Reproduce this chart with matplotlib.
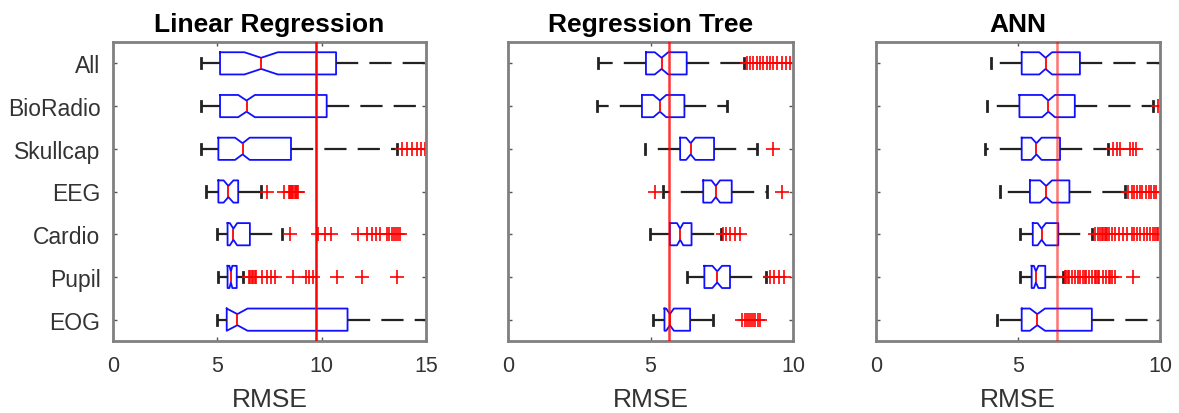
import matplotlib.pyplot as plt

plt.rcParams['font.family'] = ['Liberation Sans', 'DejaVu Sans']

groups = ['All', 'BioRadio', 'Skullcap', 'EEG', 'Cardio', 'Pupil', 'EOG']

# Linear regression RMSE summaries
lr_lo = [4.24, 4.24, 4.24, 4.44, 5.00, 5.05, 4.97]
lr_q1 = [5.13, 5.13, 5.05, 5.05, 5.49, 5.49, 5.45]
lr_med = [7.10, 6.40, 6.21, 5.53, 5.77, 5.65, 5.96]
lr_q3 = [10.69, 10.24, 8.53, 6.00, 6.56, 5.93, 11.24]
lr_hi = [16.0, 16.0, 13.60, 7.09, 8.08, 6.21, 16.0]
lr_cilo = [6.30, 6.00, 5.85, 5.30, 5.60, 5.58, 5.45]
lr_cihi = [7.90, 6.80, 6.55, 5.77, 5.95, 5.72, 6.45]
lr_out = [
    [],
    [],
    [13.85, 14.1, 14.35, 14.55, 14.75, 14.95],
    [7.36, 8.2, 8.45, 8.5, 8.55, 8.6, 8.65, 8.7, 8.75, 8.8, 8.87],
    [8.48, 9.84, 10.16, 10.47, 11.75, 12.15, 12.39, 12.6, 12.8,
     13.15, 13.25, 13.35, 13.45, 13.55, 13.65, 13.75],
    [6.5, 6.58, 6.65, 6.72, 6.8, 6.87, 7.12, 7.36, 7.56, 7.76,
     8.64, 9.25, 9.41, 9.6, 10.75, 11.91, 13.59],
    [],
]
lr_ref = 9.75

# Regression tree RMSE summaries
rt_lo = [3.17, 3.11, 4.81, 5.45, 4.98, 6.27, 5.10]
rt_q1 = [4.84, 4.70, 6.04, 6.85, 5.68, 6.89, 5.49]
rt_med = [5.39, 5.33, 6.41, 7.29, 6.04, 7.34, 5.68]
rt_q3 = [6.27, 6.19, 7.23, 7.85, 6.44, 7.79, 6.39]
rt_hi = [8.28, 7.70, 8.75, 9.08, 7.47, 9.05, 7.20]
rt_cilo = [5.15, 5.10, 6.25, 7.14, 5.93, 7.17, 5.55]
rt_cihi = [5.62, 5.55, 6.57, 7.44, 6.15, 7.51, 5.82]
rt_out = [
    [8.37, 8.5, 8.61, 8.72, 8.84, 8.96, 9.08, 9.2, 9.31, 9.43, 9.6, 9.75, 9.89],
    [],
    [9.29],
    [5.16, 9.63],
    [7.55, 7.65, 7.8, 7.95, 8.15],
    [9.2, 9.35, 9.5, 9.7],
    [8.2, 8.3, 8.38, 8.45, 8.52, 8.6, 8.68, 8.76, 8.84],
]
rt_ref = 5.65

# ANN RMSE summaries
ann_lo = [4.04, 3.92, 3.84, 4.37, 5.07, 5.07, 4.25]
ann_q1 = [5.13, 5.05, 5.13, 5.42, 5.52, 5.48, 5.13]
ann_med = [5.97, 6.07, 5.65, 5.99, 5.83, 5.63, 5.68]
ann_q3 = [7.18, 7.00, 6.48, 6.81, 6.42, 5.96, 7.60]
ann_hi = [10.3, 9.76, 8.18, 8.77, 7.60, 6.57, 10.3]
ann_cilo = [5.75, 5.85, 5.47, 5.78, 5.69, 5.56, 5.42]
ann_cihi = [6.20, 6.30, 5.83, 6.20, 5.98, 5.72, 5.95]
ann_out = [
    [],
    [9.92],
    [8.36, 8.47, 8.59, 8.94, 9.06, 9.15],
    [8.89, 9.0, 9.1, 9.18, 9.3, 9.36, 9.5, 9.6, 9.67, 9.8, 9.86],
    [7.7, 7.8, 7.9, 7.95, 8.0, 8.05, 8.1, 8.15, 8.2, 8.3, 8.4, 8.55, 8.7,
     8.85, 9.0, 9.1, 9.2, 9.3, 9.45, 9.55, 9.65, 9.75, 9.82, 9.88, 9.92],
    [6.65, 6.7, 6.75, 6.8, 6.9, 7.0, 7.1, 7.2, 7.3, 7.35, 7.4, 7.5, 7.6,
     7.7, 7.75, 7.8, 7.85, 8.0, 8.1, 8.2, 8.25, 8.3, 8.42, 9.06],
    [],
]
ann_ref = 6.38

models = [
    ('Linear Regression', lr_lo, lr_q1, lr_med, lr_q3, lr_hi, lr_cilo, lr_cihi, lr_out, lr_ref, 15, [0, 5, 10, 15], 1.0),
    ('Regression Tree', rt_lo, rt_q1, rt_med, rt_q3, rt_hi, rt_cilo, rt_cihi, rt_out, rt_ref, 10, [0, 5, 10], 0.8),
    ('ANN', ann_lo, ann_q1, ann_med, ann_q3, ann_hi, ann_cilo, ann_cihi, ann_out, ann_ref, 10, [0, 5, 10], 0.55),
]

axes_x = [(113, 426), (508, 793), (876, 1160)]
W, H = 1179, 414
top, bottom = 43, 342

fig = plt.figure(figsize=(W / 100, H / 100), dpi=100)

for i, (title, lo, q1, med, q3, hi, cilo, cihi, out, ref, xmax, xt, ref_alpha) in enumerate(models):
    x0, x1 = axes_x[i]
    ax = fig.add_axes([x0 / W, 1 - bottom / H, (x1 - x0) / W, (bottom - top) / H])

    stats = []
    for k in range(len(groups)):
        stats.append(dict(whislo=lo[k], q1=q1[k], med=med[k], q3=q3[k],
                          whishi=hi[k], cilo=cilo[k], cihi=cihi[k],
                          fliers=out[k]))

    ax.bxp(stats, positions=range(1, len(groups) + 1), vert=False,
           widths=0.52, capwidths=0.24, shownotches=True,
           boxprops=dict(color='#1010ff', linewidth=1.3),
           medianprops=dict(color='red', linewidth=1.3),
           whiskerprops=dict(color='#222222', linewidth=1.6, linestyle=(0, (10, 5))),
           capprops=dict(color='#222222', linewidth=2.0),
           flierprops=dict(marker='+', markeredgecolor='red', markersize=10,
                           markeredgewidth=1.2, linestyle='none'))

    ax.axvline(ref, color='red', linewidth=1.8, alpha=ref_alpha, zorder=3)

    ax.set_xlim(0, xmax)
    ax.set_ylim(len(groups) + 0.5, 0.5)
    ax.set_xticks(xt)
    ax.set_yticks(range(1, len(groups) + 1))
    if i == 0:
        ax.set_yticklabels(groups, fontsize=16.5, color='#333333')
    else:
        ax.set_yticklabels([])

    ax.tick_params(axis='both', direction='in', length=3, width=1, color='#555555',
                   top=True, right=True, labelcolor='#333333')
    ax.tick_params(axis='x', labelsize=15.5, pad=10)
    ax.tick_params(axis='y', pad=9)
    for sp in ax.spines.values():
        sp.set_color('#808080')
        sp.set_linewidth(2.0)

    ax.set_title(title, fontsize=19, fontweight='bold', pad=8)
    ax.set_xlabel('RMSE', fontsize=19, color='#333333', labelpad=8)

fig.savefig('out.png', dpi=100)
